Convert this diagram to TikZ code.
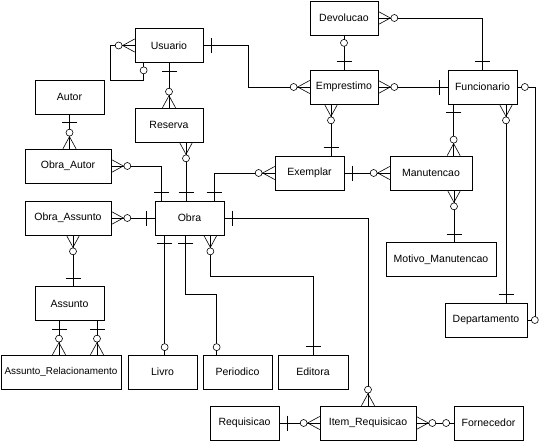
\documentclass[tikz,border=0pt]{standalone}
\usepackage{fontspec}
\setmainfont{Liberation Sans}
\usetikzlibrary{calc,positioning}

\begin{document}
\begin{tikzpicture}[x=1pt,y=-1pt,
    entity/.style={draw,line width=0.7pt,minimum width=69pt,minimum height=34pt,
                   inner sep=2pt,font=\fontsize{10.5}{12}\selectfont},
    conn/.style={line width=0.6pt},
    many/.pic={\draw[conn] (0,6.5) -- (12,0) -- (0,-6.5);
               \draw[conn,fill=white] (16,0) circle (3.5pt);},
    one/.pic={\draw[conn] (8,-7.5) -- (8,7.5);},
    zero/.pic={\draw[conn,fill=white] (7.5,0) circle (3.5pt);},
]
\useasboundingbox (0,0) rectangle (541,442);

% ---- Entities ------------------------------------------------------------
\node[entity,minimum width=68pt] (usuario)    at (169,45.5) {Usuario};
\node[entity,minimum width=68pt] (reserva)    at (169,125)  {Reserva};
\node[entity]                    (autor)      at (69.5,97)  {Autor};
\node[entity,minimum width=86pt] (obraautor)  at (68,166)   {Obra\_Autor};
\node[entity,minimum width=86pt] (obraassunto) at (68,218)  {Obra\_Assunto};
\node[entity]                    (obra)       at (189.5,218) {Obra};
\node[entity,minimum width=68pt] (devolucao)  at (344,18)   {Devolucao};
\node[entity,minimum width=68pt] (emprestimo) at (344,87)   {Emprestimo};
\node[entity]                    (funcionario) at (482.5,87) {Funcionario};
\node[entity]                    (exemplar)   at (309.5,173) {Exemplar};
\node[entity,minimum width=82pt] (manutencao) at (431,173)  {Manutencao};
\node[entity,minimum width=110pt] (motivo)    at (441,259.5) {Motivo\_Manutencao};
\node[entity,minimum width=82pt] (departamento) at (486,320) {Departamento};
\node[entity]                    (assunto)    at (69.5,303.5) {Assunto};
\node[entity,minimum width=120pt,inner xsep=0pt,
      font=\fontsize{9.9}{12}\selectfont] (assuntorel) at (61,372) {Assunto\_Relacionamento};
\node[entity]                    (livro)      at (162.5,372) {Livro};
\node[entity]                    (periodico)  at (237.5,372) {Periodico};
\node[entity,minimum width=70pt] (editora)    at (313,372)  {Editora};
\node[entity]                    (requisicao) at (244.5,423) {Requisicao};
\node[entity,minimum width=96pt] (itemreq)    at (368,423)  {Item\_Requisicao};
\node[entity]                    (fornecedor) at (488.5,423) {Fornecedor};

% ---- Usuario -------------------------------------------------------------
\draw[conn] (usuario.west) -- ++(-24.5,0)
    |- ([xshift=9pt,yshift=-17pt]usuario.south west) -- ([xshift=9pt]usuario.south west);
\pic[rotate=180] at (usuario.west) {many};
\pic[rotate=-90] at ([xshift=9pt]usuario.south west) {zero};

\draw[conn] (usuario.south) -- (reserva.north);
\pic[rotate=-90] at (usuario.south) {one};
\pic[rotate=90]  at (reserva.north) {many};

\draw[conn] (usuario.east) -- ++(45,0) |- (emprestimo.west);
\pic at (usuario.east) {one};
\pic[rotate=180] at (emprestimo.west) {many};

% ---- Emprestimo / Devolucao / Funcionario -------------------------------
\draw[conn] (devolucao.south) -- (emprestimo.north);
\pic[rotate=-90] at (devolucao.south) {zero};
\pic[rotate=90]  at (emprestimo.north) {one};

\draw[conn] (devolucao.east) -| (funcionario.north);
\pic at (devolucao.east) {many};
\pic[rotate=90] at (funcionario.north) {one};

\draw[conn] (emprestimo.east) -- (funcionario.west);
\pic at (emprestimo.east) {many};
\pic[rotate=180] at (funcionario.west) {one};

\draw[conn] ([xshift=-13pt]emprestimo.south) coordinate (ee)
    -- (ee |- exemplar.north);
\pic[rotate=-90] at (ee) {many};
\pic[rotate=90]  at (ee |- exemplar.north) {one};

\draw[conn] ([xshift=6pt]funcionario.south west) coordinate (fm)
    -- (fm |- manutencao.north);
\pic[rotate=-90] at (fm) {one};
\pic[rotate=90]  at (fm |- manutencao.north) {many};

\draw[conn] ([xshift=23.5pt]funcionario.south) coordinate (fd)
    -- (fd |- departamento.north);
\pic[rotate=-90] at (fd) {many};
\pic[rotate=90]  at (fd |- departamento.north) {one};

\draw[conn] (funcionario.east) -- ++(18,0) |- (departamento.east);
\pic at (funcionario.east) {zero};
\pic at (departamento.east) {zero};

% ---- Exemplar / Manutencao ----------------------------------------------
\draw[conn] (exemplar.west) -| ([xshift=-10pt]obra.north east);
\pic[rotate=180] at (exemplar.west) {many};
\pic[rotate=90]  at ([xshift=-10pt]obra.north east) {one};

\draw[conn] (exemplar.east) -- (manutencao.west);
\pic at (exemplar.east) {one};
\pic[rotate=180] at (manutencao.west) {many};

\draw[conn] ([xshift=23pt]manutencao.south) coordinate (mm)
    -- (mm |- motivo.north);
\pic[rotate=-90] at (mm) {many};
\pic[rotate=90]  at (mm |- motivo.north) {one};

% ---- Obra ----------------------------------------------------------------
\draw[conn] ([xshift=17pt]reserva.south) coordinate (ro)
    -- (ro |- obra.north);
\pic[rotate=-90] at (ro) {many};
\pic[rotate=90]  at (ro |- obra.north) {one};

\draw[conn] (obraautor.east) -| ([xshift=7pt]obra.north west);
\pic at (obraautor.east) {many};
\pic[rotate=90] at ([xshift=7pt]obra.north west) {one};

\draw[conn] (autor.south) -- (autor.south |- obraautor.north);
\pic[rotate=-90] at (autor.south) {one};
\pic[rotate=90]  at (autor.south |- obraautor.north) {many};

\draw[conn] (obraassunto.east) -- (obra.west);
\pic at (obraassunto.east) {many};
\pic[rotate=180] at (obra.west) {one};

\draw[conn] ([xshift=5pt]obraassunto.south) coordinate (oa)
    -- (oa |- assunto.north);
\pic[rotate=-90] at (oa) {many};
\pic[rotate=90]  at (oa |- assunto.north) {one};

% two links Assunto -- Assunto_Relacionamento
\foreach \dx/\nm in {-10.5/a1, 27.5/a2} {
    \draw[conn] ([xshift=\dx pt]assunto.south) coordinate (\nm)
        -- (\nm |- assuntorel.north);
    \pic[rotate=-90] at (\nm) {one};
    \pic[rotate=90]  at (\nm |- assuntorel.north) {many};
}

\draw[conn] ([xshift=10pt]obra.south west) coordinate (ol)
    -- (ol |- livro.north);
\pic[rotate=-90] at (ol) {one};
\pic[rotate=90]  at (ol |- livro.north) {zero};

\draw[conn] ([xshift=31pt]obra.south west) -- ++(0,59)
    -| ([xshift=14pt]periodico.north west);
\pic[rotate=-90] at ([xshift=31pt]obra.south west) {one};
\pic[rotate=90]  at ([xshift=14pt]periodico.north west) {zero};

\draw[conn] ([xshift=-14pt]obra.south east) -- ++(0,41) -| (editora.north);
\pic[rotate=-90] at ([xshift=-14pt]obra.south east) {many};
\pic[rotate=90]  at (editora.north) {one};

\draw[conn] (obra.east) -| (itemreq.north);
\pic at (obra.east) {one};
\pic[rotate=90] at (itemreq.north) {many};

% ---- Requisicao ----------------------------------------------------------
\draw[conn] (requisicao.east) -- (itemreq.west);
\pic at (requisicao.east) {one};
\pic[rotate=180] at (itemreq.west) {many};

\draw[conn] (itemreq.east) -- (fornecedor.west);
\pic at (itemreq.east) {many};
\pic[rotate=180] at (fornecedor.west) {zero};

\end{tikzpicture}
\end{document}
